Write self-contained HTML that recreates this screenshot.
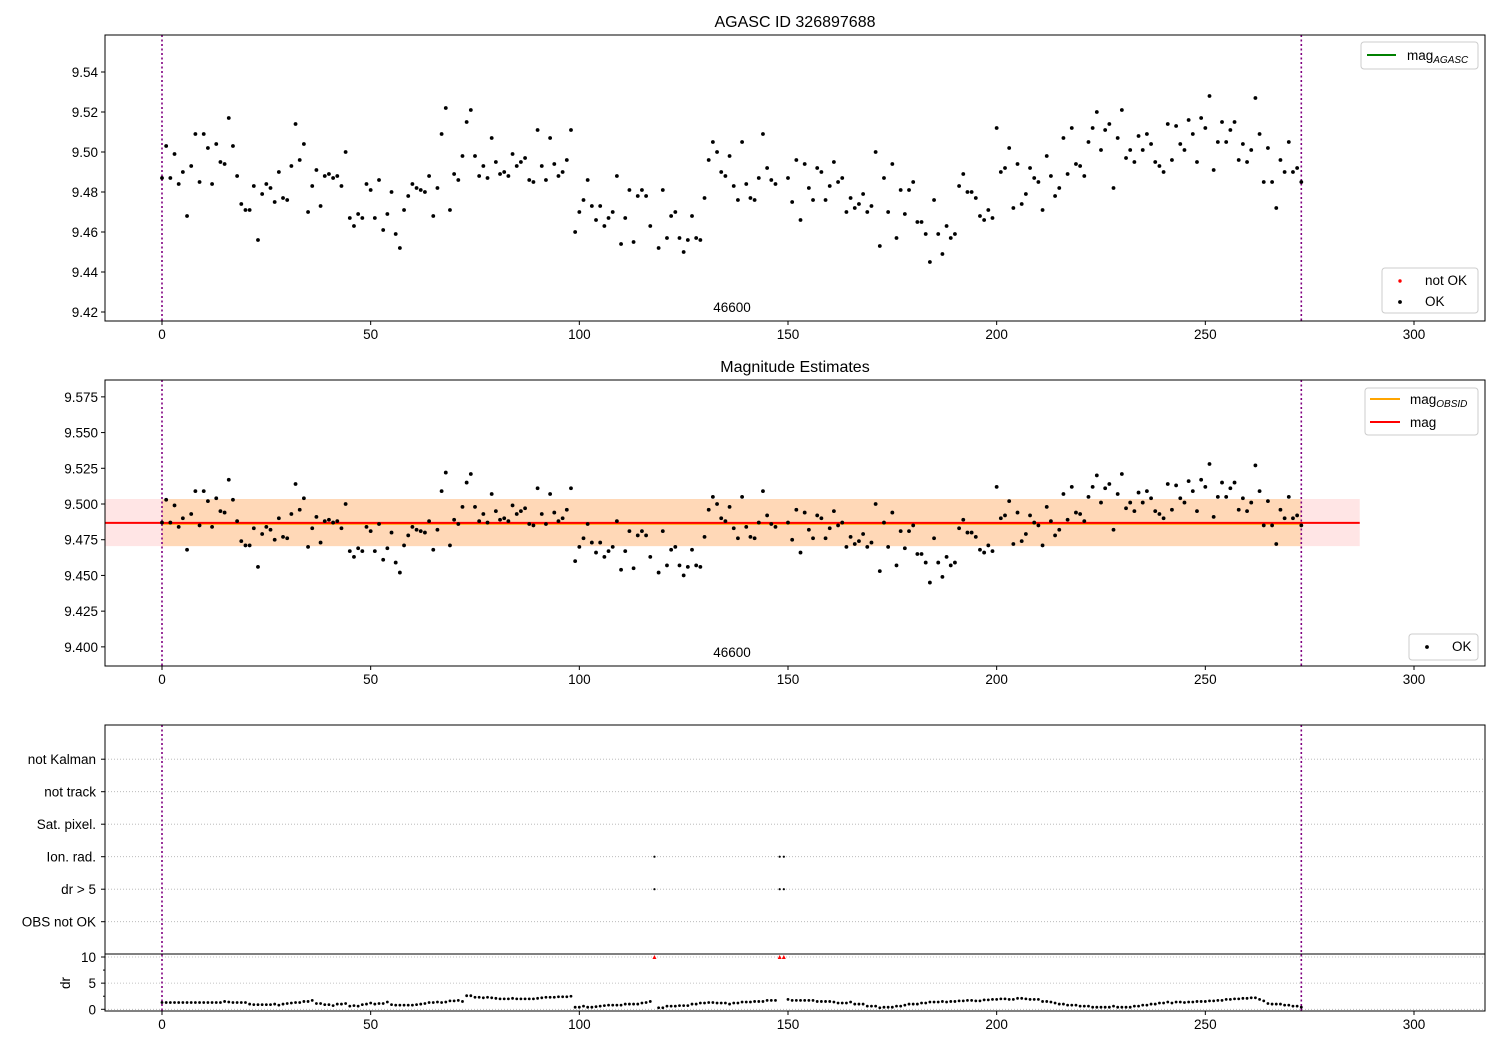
<!DOCTYPE html>
<html><head><meta charset="utf-8"><style>
body{margin:0;background:#fff;}
svg{display:block;font-family:"Liberation Sans","DejaVu Sans",sans-serif;}
</style></head><body>
<svg id="chart" width="1500" height="1050" viewBox="0 0 1500 1050" xmlns="http://www.w3.org/2000/svg"></svg>
<script>
// ---------- data ----------
const xTicks = [0, 50, 100, 150, 200, 250, 300];
const topYTicks = [9.42, 9.44, 9.46, 9.48, 9.50, 9.52, 9.54];
const midYTicks = [9.400, 9.425, 9.450, 9.475, 9.500, 9.525, 9.550, 9.575];
const flagLabels = ["OBS not OK", "dr > 5", "Ion. rad.", "Sat. pixel.", "not track", "not Kalman"];
const drTicks = [0, 5, 10];
const obsidStart = 0;
const obsidEnd = 273;
const obsidLabel = "46600";
const magMean = 9.4868;
const magObsid = 9.4862;
const magLow = 9.4705;
const magHigh = 9.5035;
const bandEnd = 287;
const badIdx = [118, 148, 149];
const ionIdx = [118, 148, 149];
const dr5Idx = [118, 148, 149];
const mags = [
9.487,9.503,9.487,9.499,9.484,9.490,9.468,9.493,9.509,9.485,
9.509,9.502,9.484,9.504,9.495,9.494,9.517,9.503,9.488,9.474,
9.471,9.471,9.483,9.456,9.479,9.484,9.482,9.475,9.490,9.477,
9.476,9.493,9.514,9.496,9.504,9.470,9.483,9.491,9.473,9.488,
9.489,9.487,9.488,9.483,9.500,9.467,9.463,9.469,9.467,9.484,
9.481,9.467,9.486,9.461,9.469,9.480,9.459,9.452,9.471,9.478,
9.484,9.482,9.481,9.480,9.488,9.468,9.482,9.509,9.522,9.471,
9.489,9.486,9.498,9.515,9.521,9.498,9.488,9.493,9.487,9.507,
9.495,9.489,9.490,9.488,9.499,9.493,9.495,9.497,9.486,9.485,
9.511,9.493,9.486,9.507,9.494,9.488,9.490,9.496,9.511,9.460,
9.470,9.476,9.486,9.473,9.466,9.473,9.463,9.467,9.470,9.488,
9.454,9.467,9.481,9.455,9.478,9.481,9.478,9.463,null,9.452,
9.481,9.457,9.468,9.470,9.457,9.450,9.456,9.468,9.457,9.456,
9.477,9.496,9.505,9.500,9.490,9.488,9.498,9.483,9.476,9.505,
9.484,9.477,9.476,9.487,9.509,9.492,9.486,9.484,null,null,
9.487,9.475,9.496,9.466,9.494,9.482,9.476,9.492,9.490,9.476,
9.483,9.495,9.485,9.487,9.470,9.477,9.472,9.474,9.479,9.470,
9.473,9.500,9.453,9.487,9.470,9.494,9.457,9.481,9.469,9.481,
9.485,9.465,9.465,9.459,9.445,9.476,9.459,9.449,9.463,9.457,
9.459,9.483,9.489,9.480,9.480,9.477,9.468,9.466,9.471,9.467,
9.512,9.490,9.492,9.502,9.472,9.494,9.474,9.479,9.492,9.487,
9.485,9.471,9.498,9.488,9.478,9.482,9.507,9.489,9.512,9.494,
9.493,9.488,9.505,9.512,9.520,9.501,9.511,9.514,9.482,9.507,
9.521,9.497,9.501,9.495,9.508,9.501,9.509,9.504,9.495,9.493,
9.490,9.514,9.496,9.513,9.504,9.501,9.516,9.509,9.495,9.517,
9.512,9.528,9.491,9.505,9.515,9.505,9.511,9.515,9.496,9.504,
9.495,9.501,9.527,9.509,9.485,9.502,9.485,9.472,9.496,9.490,
9.505,9.490,9.492,9.485];
const drVals = [
1.3,1.3,1.3,1.3,1.3,1.3,1.3,1.3,1.3,1.3,
1.3,1.3,1.3,1.3,1.3,1.5,1.4,1.3,1.3,1.3,
1.3,1.0,0.9,0.9,0.9,0.9,0.9,1.0,0.8,1.0,
1.1,1.2,1.3,1.3,1.5,1.5,1.7,1.1,1.1,0.9,
0.9,0.7,1.0,1.0,1.1,0.6,0.7,0.6,0.9,1.0,
1.2,1.0,1.1,1.1,1.4,0.9,0.8,0.8,0.8,0.8,
0.8,0.9,1.0,1.1,1.3,1.3,1.4,1.3,1.4,1.6,
1.6,1.7,1.5,2.6,2.6,2.3,2.3,2.2,2.3,2.2,
2.1,2.0,2.0,2.0,2.1,2.0,2.0,2.0,2.0,2.0,
2.1,2.2,2.3,2.3,2.3,2.4,2.4,2.4,2.5,0.4,
0.4,0.6,0.4,0.4,0.5,0.6,0.7,0.8,0.8,0.8,
0.8,1.0,1.0,1.0,1.0,1.2,1.3,1.5,12,0.3,
0.3,0.6,0.6,0.6,0.7,0.7,0.7,1.0,1.0,1.2,
1.2,1.3,1.3,1.2,1.2,1.2,1.0,1.2,1.2,1.4,
1.4,1.4,1.5,1.5,1.5,1.7,1.7,1.7,12,12,
1.9,1.7,1.7,1.7,1.7,1.7,1.7,1.5,1.5,1.5,
1.5,1.4,1.2,1.2,1.2,1.4,1.0,1.0,1.0,0.6,
0.6,0.6,0.3,0.4,0.4,0.4,0.6,0.6,0.8,1.0,
1.0,1.0,1.2,1.2,1.4,1.4,1.4,1.5,1.4,1.5,
1.5,1.6,1.6,1.7,1.7,1.6,1.6,1.8,1.8,1.9,
1.9,2.0,2.0,1.9,1.9,2.1,2.1,2.0,1.9,1.9,
1.9,1.5,1.5,1.4,1.2,1.0,1.0,0.8,0.8,0.8,
0.6,0.6,0.6,0.4,0.4,0.4,0.4,0.4,0.6,0.4,
0.4,0.4,0.4,0.6,0.6,0.8,0.8,1.0,1.0,1.2,
1.2,1.4,1.2,1.4,1.4,1.3,1.4,1.4,1.5,1.5,
1.5,1.6,1.6,1.7,1.7,1.9,1.9,2.0,2.0,2.1,
2.1,2.2,2.2,1.9,1.6,1.1,1.0,1.0,1.0,0.8,
0.8,0.6,0.6,0.4];

// ---------- scales ----------
const L = 105, R = 1485;
const X = v => 162 + v * 4.1733;
const topY = v => 152 + (9.50 - v) * 2000;
const midY = v => 504 + (9.50 - v) * 1428.6;
const drY = v => 1009.3 - Math.min(v, 10) * 5.23;
const flagY = k => 921.7 - k * 32.5;

const svg = document.getElementById('chart');
const NS = 'http://www.w3.org/2000/svg';
function mk(tag, attrs, parent) {
  const e = document.createElementNS(NS, tag);
  for (const k in attrs) e.setAttribute(k, attrs[k]);
  (parent || svg).appendChild(e);
  return e;
}
function txt(s, x, y, anchor, size, parent) {
  const t = mk('text', {x: x, y: y, 'text-anchor': anchor, 'font-size': size, fill: '#000'}, parent);
  t.textContent = s;
  return t;
}

function xAxis(gTop, gBot, parent) {
  xTicks.forEach(v => {
    const g = mk('g', {}, parent);
    
    
    mk('line', {x1: X(v), x2: X(v), y1: gBot, y2: gBot + 4, stroke: '#000', 'stroke-width': 1}, g);
    txt(String(v), X(v), gBot + 18, 'middle', 13.5, g);
  });
}
function frame(top, bot, parent) {
  const r = mk('rect', {x: L, y: top, width: R - L, height: bot - top, fill: 'none', stroke: '#000', 'stroke-width': 1}, parent);
  
  
}
function vlines(top, bot, parent) {
  [obsidStart, obsidEnd].forEach(v => {
    const l = mk('line', {x1: X(v), x2: X(v), y1: top, y2: bot, stroke: '#800080', 'stroke-width': 1.6, 'stroke-dasharray': '2,2.5'}, parent);
    
    
  });
}
function yTicksDraw(ticks, yf, fmt, parent) {
  ticks.forEach(v => {
    const g = mk('g', {}, parent);
    
    
    mk('line', {x1: L - 4, x2: L, y1: yf(v), y2: yf(v), stroke: '#000'}, g);
    txt(fmt(v), L - 7, yf(v) + 5, 'end', 13.5, g);
  });
}
function points(yf, parent, name) {
  mags.forEach((m, i) => {
    if (m === null) return;
    const c = mk('circle', {cx: X(i), cy: yf(m), r: 1.9, fill: '#000'}, parent);
    
    
  });
}

// ---------- panel 1 ----------
const p1 = mk('g', {});


const t1 = txt('AGASC ID 326897688', 795, 27, 'middle', 16, p1);


vlines(35, 321, p1);
points(topY, p1, 'mag-point');
badIdx.forEach(i => {
  const c = mk('circle', {cx: X(i), cy: topY(9.47), r: 0, fill: 'red'}, p1);
  
  
});
const ol1 = txt(obsidLabel, 732, 312, 'middle', 13.5, p1);


frame(35, 321, p1);
yTicksDraw(topYTicks, topY, v => v.toFixed(2), p1);
xAxis(35, 321, p1);
// legends
const lg1 = mk('g', {}, p1);


mk('rect', {x: 1361, y: 42, width: 117, height: 27, rx: 3, fill: '#fff', stroke: '#ccc'}, lg1);
mk('line', {x1: 1367, x2: 1396, y1: 55, y2: 55, stroke: 'green', 'stroke-width': 2}, lg1);
const lt = txt('mag', 1407, 60, 'start', 13.5, lg1);
const sub = mk('tspan', {'font-size': 10, 'font-style': 'italic', dy: 3}, lt); sub.textContent = 'AGASC';
const lg2 = mk('g', {}, p1);


mk('rect', {x: 1382, y: 268, width: 96, height: 45, rx: 3, fill: '#fff', stroke: '#ccc'}, lg2);
mk('circle', {cx: 1400, cy: 281, r: 1.7, fill: 'red'}, lg2);
txt('not OK', 1425, 285, 'start', 13.5, lg2);
mk('circle', {cx: 1400, cy: 302, r: 1.9, fill: '#000'}, lg2);
txt('OK', 1425, 306, 'start', 13.5, lg2);

// ---------- panel 2 ----------
const p2 = mk('g', {});


const t2 = txt('Magnitude Estimates', 795, 372, 'middle', 16, p2);


const b1 = mk('rect', {x: L, y: midY(magHigh), width: X(bandEnd) - L, height: midY(magLow) - midY(magHigh), fill: 'rgba(255,0,0,0.1)'}, p2);


const b2 = mk('rect', {x: X(obsidStart), y: midY(magHigh), width: X(obsidEnd) - X(obsidStart), height: midY(magLow) - midY(magHigh), fill: 'rgba(255,165,0,0.2)'}, p2);


const lo = mk('line', {x1: X(obsidStart), x2: X(obsidEnd), y1: midY(magObsid), y2: midY(magObsid), stroke: 'orange', 'stroke-width': 2}, p2);


const lm = mk('line', {x1: L, x2: X(bandEnd), y1: midY(magMean), y2: midY(magMean), stroke: 'red', 'stroke-width': 2}, p2);


vlines(380, 666, p2);
points(midY, p2, 'estimate-point');
const ol2 = txt(obsidLabel, 732, 657, 'middle', 13.5, p2);


frame(380, 666, p2);
yTicksDraw(midYTicks, midY, v => v.toFixed(3), p2);
xAxis(380, 666, p2);
const lg3 = mk('g', {}, p2);


mk('rect', {x: 1365, y: 388, width: 113, height: 47, rx: 3, fill: '#fff', stroke: '#ccc'}, lg3);
mk('line', {x1: 1370, x2: 1400, y1: 399, y2: 399, stroke: 'orange', 'stroke-width': 2}, lg3);
const lt3 = txt('mag', 1410, 404, 'start', 13.5, lg3);
const sub3 = mk('tspan', {'font-size': 10, 'font-style': 'italic', dy: 3}, lt3); sub3.textContent = 'OBSID';
mk('line', {x1: 1370, x2: 1400, y1: 422, y2: 422, stroke: 'red', 'stroke-width': 2}, lg3);
txt('mag', 1410, 427, 'start', 13.5, lg3);
const lg4 = mk('g', {}, p2);


mk('rect', {x: 1409, y: 634, width: 69, height: 26, rx: 3, fill: '#fff', stroke: '#ccc'}, lg4);
mk('circle', {cx: 1427, cy: 647, r: 1.9, fill: '#000'}, lg4);
txt('OK', 1452, 651, 'start', 13.5, lg4);

// ---------- panel 3 ----------
const p3 = mk('g', {});


flagLabels.forEach((s, k) => {
  const g = mk('g', {}, p3);
  
  
  mk('line', {x1: L, x2: R, y1: flagY(k), y2: flagY(k), stroke: '#b0b0b0', 'stroke-width': 0.8, 'stroke-dasharray': '1,2'}, g);
  mk('line', {x1: L - 4, x2: L, y1: flagY(k), y2: flagY(k), stroke: '#000'}, g);
  txt(s, L - 9, flagY(k) + 5, 'end', 13.5, g);
});
drTicks.forEach(v => {
  const g = mk('g', {}, p3);
  
  
  mk('line', {x1: L, x2: R, y1: drY(v), y2: drY(v), stroke: '#b0b0b0', 'stroke-width': 0.8, 'stroke-dasharray': '1,2'}, g);
  mk('line', {x1: L - 4, x2: L, y1: drY(v), y2: drY(v), stroke: '#000'}, g);
  txt(String(v), L - 9, drY(v) + 5, 'end', 13.5, g);
});
[2.5, 7.5].forEach(v => mk('line', {x1: L - 2, x2: L, y1: drY(v), y2: drY(v), stroke: '#000'}, p3));
const dl = mk('text', {x: 0, y: 0, 'font-size': 13.5, 'text-anchor': 'middle', transform: 'translate(70,983) rotate(-90)'}, p3);
dl.textContent = 'dr';


vlines(725, 1011, p3);
ionIdx.forEach(i => {
  const c = mk('circle', {cx: X(i), cy: flagY(2), r: 1.1, fill: '#000'}, p3);
  
  
});
dr5Idx.forEach(i => {
  const c = mk('circle', {cx: X(i), cy: flagY(1), r: 1.1, fill: '#000'}, p3);
  
  
});
drVals.forEach((d, i) => {
  if (d > 10) {
    const px = X(i), py = drY(d);
    const t = mk('polygon', {points: (px - 2) + ',' + (py + 2) + ' ' + (px + 2) + ',' + (py + 2) + ' ' + px + ',' + (py - 2), fill: 'red'}, p3);
    
    
  } else {
    const c = mk('circle', {cx: X(i), cy: drY(d), r: 1.4, fill: '#000'}, p3);
    
    
  }
});
frame(725, 1011, p3);
const sep = mk('line', {x1: L, x2: R, y1: 954, y2: 954, stroke: '#000', 'stroke-width': 1}, p3);


xAxis(725, 1011, p3);
</script>
</body></html>
